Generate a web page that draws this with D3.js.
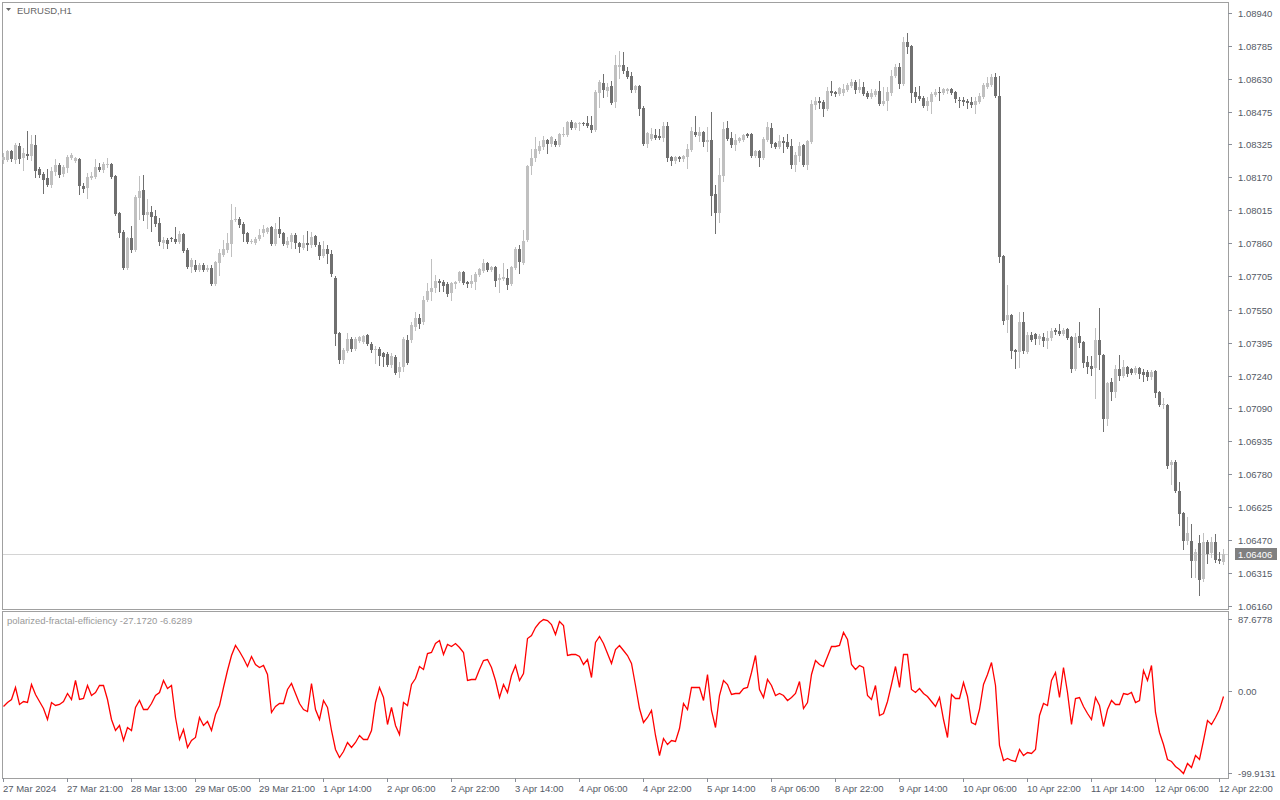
<!DOCTYPE html>
<html><head><meta charset="utf-8">
<script src="https://cdn.jsdelivr.net/npm/d3@7"></script>
<style>
body{margin:0;background:#fff;}
svg{display:block;}
text{font-family:"Liberation Sans",Arial,sans-serif;}
</style>
</head><body>
<svg id="c" width="1280" height="800"></svg>
<script>
const symbolLabel = "EURUSD,H1";
const indicatorLabel = "polarized-fractal-efficiency -27.1720 -6.6289";
const lastPrice = 1.06406;

const openP = [1.08251,1.08251,1.08293,1.08251,1.08317,1.08260,1.08279,1.08270,1.08321,1.08209,
1.08185,1.08166,1.08134,1.08195,1.08228,1.08185,1.08213,1.08260,1.08246,1.08256,
1.08129,1.08119,1.08166,1.08171,1.08218,1.08204,1.08228,1.08232,1.08176,1.08003,
1.07914,1.07745,1.07886,1.07829,1.08073,1.08110,1.07993,1.08008,1.07989,1.07956,
1.07862,1.07876,1.07886,1.07881,1.07867,1.07904,1.07829,1.07750,1.07759,1.07735,
1.07759,1.07735,1.07745,1.07670,1.07768,1.07806,1.07829,1.07857,1.07970,1.07975,
1.07951,1.07909,1.07867,1.07862,1.07881,1.07909,1.07914,1.07937,1.07857,1.07928,
1.07909,1.07853,1.07867,1.07900,1.07862,1.07838,1.07862,1.07853,1.07895,1.07853,
1.07801,1.07834,1.07810,1.07698,1.07440,1.07313,1.07355,1.07412,1.07365,1.07403,
1.07398,1.07431,1.07388,1.07360,1.07365,1.07346,1.07341,1.07290,1.07327,1.07257,
1.07281,1.07407,1.07407,1.07468,1.07510,1.07492,1.07595,1.07632,1.07651,1.07684,
1.07679,1.07670,1.07628,1.07670,1.07684,1.07726,1.07679,1.07670,1.07679,1.07712,
1.07731,1.07768,1.07735,1.07750,1.07688,1.07693,1.07698,1.07670,1.07745,1.07834,
1.07768,1.07876,1.08223,1.08260,1.08293,1.08312,1.08345,1.08326,1.08340,1.08321,
1.08368,1.08368,1.08429,1.08401,1.08420,1.08424,1.08424,1.08415,1.08392,1.08565,
1.08612,1.08574,1.08598,1.08523,1.08687,1.08696,1.08668,1.08645,1.08579,1.08598,
1.08495,1.08326,1.08350,1.08368,1.08364,1.08354,1.08410,1.08265,1.08246,1.08265,
1.08256,1.08265,1.08298,1.08382,1.08364,1.08382,1.08335,1.08345,1.08091,1.08003,
1.08176,1.08401,1.08354,1.08321,1.08340,1.08345,1.08373,1.08373,1.08270,1.08293,
1.08260,1.08345,1.08401,1.08331,1.08312,1.08340,1.08335,1.08317,1.08228,1.08270,
1.08321,1.08228,1.08335,1.08509,1.08527,1.08523,1.08490,1.08574,1.08570,1.08560,
1.08565,1.08579,1.08598,1.08617,1.08579,1.08593,1.08565,1.08546,1.08556,1.08574,
1.08513,1.08527,1.08565,1.08645,1.08687,1.08607,1.08804,1.08785,1.08570,1.08551,
1.08541,1.08504,1.08523,1.08556,1.08570,1.08565,1.08574,1.08584,1.08570,1.08532,
1.08532,1.08527,1.08523,1.08509,1.08523,1.08546,1.08593,1.08603,1.08640,1.08551,
1.07801,1.07501,1.07524,1.07360,1.07351,1.07492,1.07351,1.07431,1.07435,1.07412,
1.07421,1.07403,1.07417,1.07454,1.07449,1.07435,1.07459,1.07421,1.07271,1.07426,
1.07398,1.07304,1.07285,1.07276,1.07407,1.07337,1.07037,1.07210,1.07163,1.07271,
1.07238,1.07281,1.07271,1.07252,1.07276,1.07257,1.07257,1.07234,1.07262,1.07163,
1.07102,1.07102,1.06821,1.06835,1.06699,1.06596,1.06465,1.06465,1.06371,1.06456,
1.06287,1.06461,1.06409,1.06461,1.06381,1.06367];

const highP = [1.08284,1.08298,1.08298,1.08331,1.08331,1.08307,1.08387,1.08368,1.08368,1.08218,
1.08195,1.08209,1.08218,1.08256,1.08237,1.08228,1.08274,1.08284,1.08265,1.08260,
1.08143,1.08190,1.08195,1.08256,1.08237,1.08242,1.08260,1.08237,1.08181,1.08008,
1.07923,1.07890,1.07942,1.08087,1.08176,1.08181,1.08068,1.08035,1.08017,1.07979,
1.07890,1.07886,1.07890,1.07937,1.07918,1.07909,1.07838,1.07792,1.07782,1.07768,
1.07768,1.07759,1.07759,1.07778,1.07834,1.07876,1.07909,1.08045,1.08031,1.07984,
1.07961,1.07914,1.07881,1.07890,1.07928,1.07947,1.07937,1.07942,1.07956,1.07984,
1.07914,1.07890,1.07909,1.07909,1.07867,1.07900,1.07918,1.07914,1.07900,1.07867,
1.07871,1.07853,1.07829,1.07707,1.07445,1.07370,1.07440,1.07421,1.07421,1.07426,
1.07431,1.07435,1.07398,1.07379,1.07374,1.07351,1.07351,1.07346,1.07337,1.07304,
1.07421,1.07431,1.07492,1.07538,1.07529,1.07613,1.07674,1.07787,1.07712,1.07693,
1.07688,1.07679,1.07679,1.07684,1.07731,1.07731,1.07684,1.07712,1.07726,1.07745,
1.07787,1.07773,1.07754,1.07754,1.07717,1.07768,1.07740,1.07754,1.07843,1.07853,
1.07923,1.08228,1.08303,1.08359,1.08340,1.08364,1.08350,1.08364,1.08350,1.08378,
1.08406,1.08434,1.08438,1.08429,1.08429,1.08429,1.08457,1.08457,1.08579,1.08626,
1.08654,1.08612,1.08621,1.08743,1.08762,1.08757,1.08687,1.08664,1.08603,1.08603,
1.08504,1.08382,1.08401,1.08396,1.08396,1.08429,1.08429,1.08270,1.08270,1.08270,
1.08274,1.08326,1.08406,1.08457,1.08406,1.08387,1.08406,1.08476,1.08134,1.08260,
1.08429,1.08434,1.08382,1.08373,1.08359,1.08373,1.08378,1.08378,1.08298,1.08298,
1.08359,1.08429,1.08424,1.08335,1.08368,1.08359,1.08373,1.08350,1.08289,1.08335,
1.08326,1.08345,1.08532,1.08546,1.08546,1.08532,1.08593,1.08621,1.08574,1.08593,
1.08607,1.08612,1.08631,1.08626,1.08631,1.08617,1.08574,1.08584,1.08584,1.08621,
1.08593,1.08593,1.08673,1.08701,1.08706,1.08827,1.08846,1.08790,1.08593,1.08598,
1.08551,1.08546,1.08570,1.08584,1.08593,1.08588,1.08588,1.08588,1.08574,1.08546,
1.08546,1.08537,1.08546,1.08546,1.08565,1.08612,1.08640,1.08654,1.08659,1.08645,
1.07806,1.07665,1.07529,1.07365,1.07538,1.07538,1.07445,1.07445,1.07440,1.07435,
1.07440,1.07449,1.07463,1.07463,1.07482,1.07463,1.07463,1.07426,1.07440,1.07492,
1.07403,1.07332,1.07332,1.07463,1.07557,1.07341,1.07210,1.07229,1.07290,1.07337,
1.07313,1.07285,1.07276,1.07285,1.07281,1.07271,1.07267,1.07267,1.07267,1.07168,
1.07135,1.07107,1.06845,1.06845,1.06742,1.06601,1.06577,1.06545,1.06428,1.06493,
1.06503,1.06470,1.06484,1.06498,1.06413,1.06428];

const lowP = [1.08237,1.08246,1.08246,1.08237,1.08237,1.08204,1.08256,1.08251,1.08171,1.08171,
1.08096,1.08129,1.08124,1.08181,1.08171,1.08176,1.08195,1.08256,1.08242,1.08091,
1.08101,1.08073,1.08162,1.08166,1.08199,1.08195,1.08218,1.08166,1.07993,1.07890,
1.07740,1.07740,1.07820,1.07824,1.07975,1.07970,1.07933,1.07918,1.07942,1.07853,
1.07838,1.07838,1.07871,1.07862,1.07862,1.07820,1.07745,1.07726,1.07731,1.07731,
1.07731,1.07731,1.07665,1.07665,1.07712,1.07801,1.07820,1.07801,1.07965,1.07937,
1.07871,1.07862,1.07862,1.07857,1.07876,1.07895,1.07909,1.07853,1.07853,1.07890,
1.07853,1.07843,1.07838,1.07838,1.07820,1.07834,1.07829,1.07843,1.07848,1.07787,
1.07796,1.07768,1.07707,1.07384,1.07299,1.07299,1.07351,1.07355,1.07360,1.07398,
1.07393,1.07384,1.07351,1.07299,1.07290,1.07285,1.07285,1.07281,1.07248,1.07234,
1.07262,1.07295,1.07398,1.07454,1.07463,1.07482,1.07590,1.07595,1.07632,1.07637,
1.07637,1.07613,1.07595,1.07651,1.07679,1.07670,1.07656,1.07656,1.07646,1.07707,
1.07726,1.07731,1.07731,1.07660,1.07632,1.07688,1.07646,1.07665,1.07740,1.07721,
1.07764,1.07871,1.08185,1.08246,1.08284,1.08303,1.08284,1.08317,1.08317,1.08317,
1.08364,1.08364,1.08396,1.08396,1.08392,1.08415,1.08406,1.08382,1.08387,1.08499,
1.08546,1.08551,1.08513,1.08499,1.08635,1.08659,1.08635,1.08570,1.08570,1.08462,
1.08321,1.08312,1.08345,1.08350,1.08350,1.08340,1.08246,1.08228,1.08237,1.08246,
1.08246,1.08213,1.08293,1.08364,1.08340,1.08317,1.08293,1.07993,1.07909,1.07961,
1.08152,1.08345,1.08312,1.08298,1.08335,1.08340,1.08359,1.08265,1.08265,1.08223,
1.08256,1.08340,1.08312,1.08307,1.08307,1.08289,1.08307,1.08213,1.08199,1.08246,
1.08223,1.08209,1.08331,1.08490,1.08495,1.08457,1.08485,1.08556,1.08551,1.08556,
1.08556,1.08574,1.08593,1.08565,1.08570,1.08556,1.08541,1.08541,1.08551,1.08509,
1.08509,1.08485,1.08556,1.08640,1.08588,1.08603,1.08753,1.08523,1.08523,1.08532,
1.08499,1.08485,1.08471,1.08551,1.08532,1.08560,1.08565,1.08560,1.08523,1.08499,
1.08509,1.08495,1.08499,1.08471,1.08518,1.08541,1.08588,1.08598,1.08546,1.07773,
1.07482,1.07445,1.07323,1.07276,1.07281,1.07346,1.07346,1.07403,1.07388,1.07388,
1.07379,1.07370,1.07407,1.07435,1.07431,1.07431,1.07412,1.07257,1.07267,1.07374,
1.07281,1.07252,1.07243,1.07135,1.07271,1.06981,1.07009,1.07126,1.07140,1.07220,
1.07234,1.07238,1.07248,1.07248,1.07229,1.07215,1.07220,1.07224,1.07140,1.07098,
1.07088,1.06807,1.06732,1.06694,1.06540,1.06428,1.06451,1.06296,1.06296,1.06212,
1.06277,1.06362,1.06390,1.06367,1.06362,1.06357];

const closeP = [1.08265,1.08293,1.08256,1.08321,1.08256,1.08284,1.08270,1.08326,1.08199,1.08181,
1.08157,1.08134,1.08199,1.08228,1.08181,1.08218,1.08265,1.08274,1.08260,1.08129,
1.08115,1.08171,1.08176,1.08218,1.08204,1.08232,1.08232,1.08171,1.07998,1.07909,
1.07745,1.07886,1.07829,1.08077,1.08105,1.07993,1.08008,1.07984,1.07951,1.07867,
1.07876,1.07857,1.07881,1.07867,1.07904,1.07824,1.07750,1.07782,1.07735,1.07759,
1.07735,1.07745,1.07670,1.07773,1.07815,1.07834,1.07862,1.07970,1.07975,1.07947,
1.07904,1.07867,1.07871,1.07881,1.07900,1.07928,1.07933,1.07857,1.07928,1.07904,
1.07857,1.07871,1.07900,1.07862,1.07843,1.07862,1.07853,1.07890,1.07853,1.07801,
1.07834,1.07810,1.07717,1.07435,1.07313,1.07360,1.07412,1.07365,1.07412,1.07421,
1.07426,1.07388,1.07360,1.07365,1.07332,1.07327,1.07290,1.07332,1.07252,1.07281,
1.07412,1.07299,1.07477,1.07510,1.07482,1.07595,1.07637,1.07651,1.07684,1.07674,
1.07660,1.07623,1.07674,1.07679,1.07726,1.07674,1.07670,1.07684,1.07717,1.07740,
1.07768,1.07735,1.07750,1.07684,1.07698,1.07702,1.07665,1.07750,1.07834,1.07773,
1.07871,1.08223,1.08260,1.08303,1.08317,1.08345,1.08326,1.08359,1.08321,1.08373,
1.08373,1.08429,1.08401,1.08424,1.08424,1.08420,1.08410,1.08392,1.08570,1.08617,
1.08579,1.08593,1.08518,1.08696,1.08696,1.08668,1.08640,1.08579,1.08598,1.08490,
1.08326,1.08378,1.08373,1.08354,1.08354,1.08410,1.08260,1.08246,1.08265,1.08256,
1.08270,1.08303,1.08387,1.08368,1.08382,1.08335,1.08345,1.08082,1.08003,1.08181,
1.08396,1.08350,1.08321,1.08345,1.08354,1.08368,1.08364,1.08270,1.08293,1.08260,
1.08350,1.08406,1.08326,1.08312,1.08340,1.08331,1.08312,1.08228,1.08274,1.08317,
1.08228,1.08340,1.08513,1.08527,1.08518,1.08490,1.08574,1.08565,1.08560,1.08588,
1.08584,1.08603,1.08617,1.08579,1.08593,1.08560,1.08546,1.08565,1.08574,1.08513,
1.08527,1.08570,1.08645,1.08687,1.08607,1.08804,1.08781,1.08565,1.08546,1.08537,
1.08504,1.08527,1.08560,1.08570,1.08565,1.08584,1.08584,1.08565,1.08537,1.08527,
1.08523,1.08518,1.08509,1.08527,1.08551,1.08603,1.08612,1.08640,1.08551,1.07796,
1.07496,1.07524,1.07355,1.07351,1.07492,1.07355,1.07431,1.07407,1.07412,1.07426,
1.07403,1.07417,1.07449,1.07445,1.07435,1.07454,1.07417,1.07271,1.07421,1.07393,
1.07299,1.07281,1.07271,1.07407,1.07337,1.07037,1.07206,1.07163,1.07271,1.07238,
1.07281,1.07248,1.07252,1.07276,1.07248,1.07243,1.07234,1.07257,1.07159,1.07102,
1.07107,1.06817,1.06835,1.06699,1.06591,1.06465,1.06503,1.06371,1.06413,1.06282,
1.06461,1.06404,1.06461,1.06376,1.06371,1.06406];

const pfeValues = [-18.7,-13.4,-9.4,4.9,-15.5,-12.2,-13.4,8.9,-3.3,-12.6,
-20.7,-34.5,-13.4,-16.7,-15.5,-12.6,-2.1,-10.2,13.8,-9.4,
-8.5,6.9,-4.5,-1.2,7.7,6.9,-9.4,-34.5,-47.9,-41.0,
-60.1,-43.9,-47.9,-19.5,-11.4,-21.5,-22.4,-14.6,-4.5,-1.2,
13.8,3.6,7.7,-31.7,-58.1,-46.7,-68.2,-60.1,-56.1,-31.7,
-41.0,-36.2,-47.9,-27.6,-17.5,4.9,25.1,43.4,55.6,48.3,
40.2,30.4,42.6,33.3,29.2,32.1,21.1,-25.6,-18.3,-14.2,
-14.2,2.8,10.1,-2.5,-14.2,-22.4,-24.8,10.1,-21.5,-34.5,
-11.4,-19.5,-47.9,-70.3,-80.4,-73.5,-62.2,-68.6,-62.2,-54.0,
-58.9,-58.1,-47.9,-13.4,4.9,-7.3,-39.8,-19.5,-41.8,-52.0,
-13.4,-16.7,8.9,15.8,30.4,27.2,46.3,47.5,58.8,61.7,
44.6,57.6,54.8,58.0,53.6,47.5,13.0,14.2,15.0,27.2,
37.3,39.4,29.2,13.0,-7.3,8.9,-1.2,19.9,32.1,13.0,
21.9,64.5,68.6,77.9,84.4,87.6778,86.0,82.0,69.8,84.8,
80.8,43.4,45.5,44.6,42.6,33.3,38.6,17.0,59.7,66.6,
58.4,46.7,34.1,50.7,55.6,49.9,43.4,34.5,7.7,-20.7,
-37.8,-31.7,-23.6,-54.0,-78.4,-56.9,-64.2,-59.3,-61.3,-45.1,
-15.0,-21.5,4.9,4.9,4.9,-11.4,21.1,-23.6,-43.9,-5.3,
13.0,8.1,-3.3,-2.1,-2.1,3.6,4.9,23.1,43.4,2.8,
-7.3,14.2,6.9,-5.3,-2.9,-4.9,-11.4,-7.3,-2.1,12.2,
-20.7,-13.4,21.1,37.3,32.5,30.4,42.2,54.4,54.4,55.6,
71.8,62.9,33.3,27.2,31.6,29.2,-5.3,-9.4,7.7,-28.9,
-26.8,-12.6,8.9,30.4,4.9,45.5,45.5,2.0,-1.2,3.6,
-2.9,-6.1,-12.6,-18.3,-7.3,-33.7,-56.1,-3.3,-8.5,-8.5,
10.9,-6.1,-37.8,-39.8,-21.5,8.9,20.3,35.3,6.9,-66.2,
-84.5,-81.6,-84.1,-85.7,-71.1,-77.6,-74.3,-76.0,-70.3,-29.7,
-14.2,-16.7,13.0,23.1,-7.3,29.2,-1.2,-39.8,-8.5,-7.3,
-18.3,-26.4,-33.7,-7.3,-17.5,-42.7,-22.4,-11.0,-15.5,-15.5,
-2.1,-3.3,-1.2,-13.4,-11.4,25.1,13.0,32.1,-25.6,-50.0,
-64.2,-82.4,-85.3,-91.4,-95.0,-99.9131,-87.3,-92.6,-78.4,-82.4,
-60.1,-35.8,-39.8,-31.7,-21.5,-6.6289];

const priceTicks = [1.08940,1.08785,1.08630,1.08475,1.08325,1.08170,1.08015,1.07860,1.07705,1.07550,
1.07395,1.07240,1.07090,1.06935,1.06780,1.06625,1.06470,1.06315,1.06160];
const pfeTicks = [87.6778, 0.00, -99.9131];
const pfeTickLabels = ["87.6778","0.00","-99.9131"];
const timeLabels = ["27 Mar 2024","27 Mar 21:00","28 Mar 13:00","29 Mar 05:00","29 Mar 21:00",
"1 Apr 14:00","2 Apr 06:00","2 Apr 22:00","3 Apr 14:00","4 Apr 06:00","4 Apr 22:00",
"5 Apr 14:00","8 Apr 06:00","8 Apr 22:00","9 Apr 14:00","10 Apr 06:00","10 Apr 22:00",
"11 Apr 14:00","12 Apr 06:00","12 Apr 22:00"];
const timeLabelStep = 16;

const svg = d3.select("#c");
const n = openP.length;
const AXIS_COL = "#8a8f99", FRAME_COL = "#a0a0a0", TXT_COL = "#545a66";
const BULL = "#c0c0c0", BEAR = "#707070";

const left = 2, right = 1228;
const mainTop = 2, mainBot = 609, indTop = 611, indBot = 778;

const x = d3.scaleLinear().domain([0, n - 1]).range([3, 3 + 4 * (n - 1)]);
const y = d3.scaleLinear().domain([1.06146, 1.08992]).range([mainBot, mainTop]);
const yi = d3.scaleLinear().domain([-99.9131, 87.6778]).range([773, 619]);

// frames
svg.append("rect").attr("x", left + 0.5).attr("y", mainTop + 0.5)
  .attr("width", right - left).attr("height", mainBot - mainTop)
  .attr("fill", "none").attr("stroke", FRAME_COL);
svg.append("rect").attr("x", left + 0.5).attr("y", indTop + 0.5)
  .attr("width", right - left).attr("height", indBot - indTop)
  .attr("fill", "none").attr("stroke", FRAME_COL);

// last price line
svg.append("line").attr("x1", left + 1).attr("x2", right)
  .attr("y1", Math.round(y(lastPrice)) + 0.5).attr("y2", Math.round(y(lastPrice)) + 0.5)
  .attr("stroke", "#d4d4d4");

// candles
const idx = d3.range(n);
const g = svg.append("g").attr("shape-rendering", "crispEdges");
g.selectAll("line.w").data(idx).join("line")
  .attr("x1", i => Math.round(x(i)) + 0.5).attr("x2", i => Math.round(x(i)) + 0.5)
  .attr("y1", i => Math.round(y(highP[i]))).attr("y2", i => Math.round(y(lowP[i])) + 1)
  .attr("stroke", i => closeP[i] >= openP[i] ? BULL : BEAR);
g.selectAll("rect.b").data(idx).join("rect")
  .attr("x", i => Math.round(x(i)) - 1)
  .attr("width", 3)
  .attr("y", i => Math.round(y(Math.max(openP[i], closeP[i]))))
  .attr("height", i => Math.max(1, Math.round(y(Math.min(openP[i], closeP[i]))) - Math.round(y(Math.max(openP[i], closeP[i])))))
  .attr("fill", i => closeP[i] >= openP[i] ? BULL : BEAR);

// indicator line
svg.append("path")
  .attr("d", d3.line().x((d, i) => x(i) + 0.5).y(d => Math.round(yi(d)) + 0.5)(pfeValues))
  .attr("fill", "none").attr("stroke", "#ff0000").attr("stroke-width", 1.3);

// right axis ticks and labels
const ax = svg.append("g");
priceTicks.forEach(p => {
  const yy = Math.round(y(p));
  ax.append("line").attr("x1", right).attr("x2", right + 4).attr("y1", yy + 0.5).attr("y2", yy + 0.5).attr("stroke", AXIS_COL);
  ax.append("text").attr("x", 1238).attr("y", yy + 3.5).attr("font-size", 9.5).attr("fill", TXT_COL).text(p.toFixed(5));
});
pfeTicks.forEach((v, k) => {
  const yy = Math.round(yi(v));
  ax.append("line").attr("x1", right).attr("x2", right + 4).attr("y1", yy + 0.5).attr("y2", yy + 0.5).attr("stroke", AXIS_COL);
  ax.append("text").attr("x", 1238).attr("y", yy + 3.5).attr("font-size", 9.5).attr("fill", TXT_COL).text(pfeTickLabels[k]);
});

// last price box
const ly = Math.round(y(lastPrice));
ax.append("rect").attr("x", 1235).attr("y", ly - 6).attr("width", 42).attr("height", 12).attr("fill", "#808080");
ax.append("text").attr("x", 1238).attr("y", ly + 3.5).attr("font-size", 9.5).attr("fill", "#ffffff").text(lastPrice.toFixed(5));

// time labels
timeLabels.forEach((t, k) => {
  const xx = Math.round(x(k * timeLabelStep));
  ax.append("line").attr("x1", xx + 0.5).attr("x2", xx + 0.5).attr("y1", indBot).attr("y2", indBot + 4).attr("stroke", AXIS_COL);
  ax.append("text").attr("x", xx).attr("y", 792).attr("font-size", 9.5).attr("fill", TXT_COL).text(t);
});

// titles
svg.append("path").attr("d", "M6,8 L11,8 L8.5,11 Z").attr("fill", "#666");
svg.append("text").attr("x", 17).attr("y", 14).attr("font-size", 9.5).attr("fill", "#666").text(symbolLabel);
svg.append("text").attr("x", 7).attr("y", 624).attr("font-size", 9.5).attr("fill", "#999").text(indicatorLabel);
</script>
</body></html>
